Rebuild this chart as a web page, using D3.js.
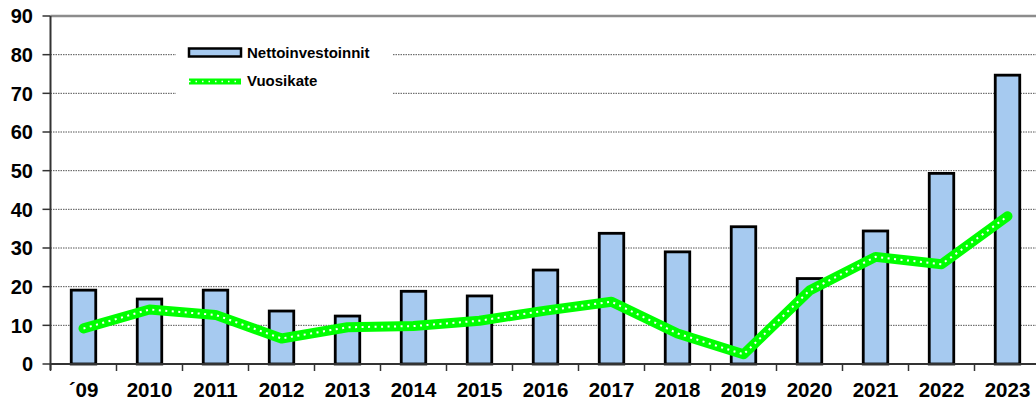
<!DOCTYPE html>
<html>
<head>
<meta charset="utf-8">
<script src="https://cdn.jsdelivr.net/npm/d3@7/dist/d3.min.js"></script>
<style>
  html, body { margin: 0; padding: 0; background: #fff; }
  svg { display: block; font-family: "Liberation Sans", Arial, sans-serif; }
</style>
</head>
<body>
<svg id="chart" width="1036" height="401"></svg>
<script>
// Years on the category axis
const years = ["\u00B409", "2010", "2011", "2012", "2013", "2014", "2015", "2016",
               "2017", "2018", "2019", "2020", "2021", "2022", "2023"];
// Net investments (bars)
const nettoinvestoinnit = [19.1, 16.8, 19.1, 13.7, 12.4, 18.8, 17.6, 24.3,
                           33.8, 29.0, 35.5, 22.1, 34.4, 49.3, 74.7];
// Annual contribution margin (line)
const vuosikate = [9.2, 14.1, 12.7, 6.6, 9.5, 9.8, 11.2, 13.8,
                   16.1, 7.9, 2.5, 19.0, 27.7, 25.8, 38.2];
// Value axis ticks
const yTicks = [0, 10, 20, 30, 40, 50, 60, 70, 80, 90];

const svg = d3.select("#chart");
const plotLeft = 50.5, plotRight = 1040.5, plotTop = 16, plotBottom = 364;

const step = (plotRight - plotLeft) / years.length;
const pad = 1 - 24.5 / step;
const x = d3.scaleBand().domain(years).range([plotLeft, plotRight])
  .paddingInner(pad).paddingOuter(pad / 2);
const y = d3.scaleLinear().domain([0, 90]).range([plotBottom, plotTop]);

// Gridlines
svg.append("g").selectAll("line")
  .data(yTicks.filter(t => t > 0 && t < 90))
  .join("line")
  .attr("x1", plotLeft).attr("x2", 1036)
  .attr("y1", d => y(d)).attr("y2", d => y(d))
  .attr("stroke", "#555").attr("stroke-width", 1)
  .attr("stroke-dasharray", "1.5,1");

// Top border of the plot area
svg.append("line")
  .attr("x1", plotLeft).attr("x2", 1036)
  .attr("y1", y(90)).attr("y2", y(90))
  .attr("stroke", "#8c8c8c").attr("stroke-width", 2.5);

// Legend box (white, hides gridlines behind it)
const legend = svg.append("g");
legend.append("rect")
  .attr("x", 176).attr("y", 40).attr("width", 216).attr("height", 60)
  .attr("fill", "#fff");

// Bars
svg.append("g").selectAll("rect")
  .data(years.map((yr, i) => ({ yr, v: nettoinvestoinnit[i] })))
  .join("rect")
  .attr("x", d => x(d.yr))
  .attr("width", x.bandwidth())
  .attr("y", d => y(d.v))
  .attr("height", d => y(0) - y(d.v))
  .attr("fill", "#a6caf0")
  .attr("stroke", "#000")
  .attr("stroke-width", 2.8);

// Vuosikate line: green band with white dots
const lineGen = d3.line()
  .x((d, i) => x(years[i]) + x.bandwidth() / 2)
  .y(d => y(d));
svg.append("path")
  .datum(vuosikate)
  .attr("d", lineGen)
  .attr("fill", "none")
  .attr("stroke", "#00ff00")
  .attr("stroke-width", 10)
  .attr("stroke-linejoin", "round")
  .attr("stroke-linecap", "round");
svg.append("path")
  .datum(vuosikate)
  .attr("d", lineGen)
  .attr("fill", "none")
  .attr("stroke", "#fff")
  .attr("stroke-width", 2)
  .attr("stroke-dasharray", "2,4.5");

// Y axis
const yAxis = svg.append("g");
yAxis.append("line")
  .attr("x1", plotLeft).attr("x2", plotLeft)
  .attr("y1", plotTop).attr("y2", plotBottom + 6)
  .attr("stroke", "#333").attr("stroke-width", 2);
yAxis.selectAll("line.tick")
  .data(yTicks)
  .join("line")
  .attr("class", "tick")
  .attr("x1", plotLeft - 8).attr("x2", plotLeft)
  .attr("y1", d => y(d)).attr("y2", d => y(d))
  .attr("stroke", "#333").attr("stroke-width", 1.5);
yAxis.selectAll("text")
  .data(yTicks)
  .join("text")
  .attr("x", 33)
  .attr("y", d => y(d))
  .attr("dy", "0.36em")
  .attr("text-anchor", "end")
  .attr("font-size", 20)
  .attr("font-weight", "bold")
  .attr("fill", "#000")
  .text(d => d);

// X axis
const xAxis = svg.append("g");
xAxis.append("line")
  .attr("x1", plotLeft).attr("x2", 1036)
  .attr("y1", plotBottom).attr("y2", plotBottom)
  .attr("stroke", "#333").attr("stroke-width", 2);
xAxis.selectAll("line.tick")
  .data(years)
  .join("line")
  .attr("class", "tick")
  .attr("x1", d => x(d) - (step - x.bandwidth()) / 2)
  .attr("x2", d => x(d) - (step - x.bandwidth()) / 2)
  .attr("y1", plotBottom).attr("y2", plotBottom + 7)
  .attr("stroke", "#333").attr("stroke-width", 1.5);
xAxis.selectAll("text")
  .data(years)
  .join("text")
  .attr("x", d => x(d) + x.bandwidth() / 2)
  .attr("y", 397)
  .attr("text-anchor", "middle")
  .attr("font-size", 20.5)
  .attr("font-weight", "bold")
  .attr("fill", "#000")
  .text(d => d);

// Legend entries
legend.append("rect")
  .attr("x", 189).attr("y", 48.5).attr("width", 52).attr("height", 8)
  .attr("fill", "#a6caf0").attr("stroke", "#000").attr("stroke-width", 2.5);
legend.append("text")
  .attr("x", 247).attr("y", 57.5)
  .attr("font-size", 15).attr("font-weight", "bold")
  .text("Nettoinvestoinnit");
legend.append("line")
  .attr("x1", 189).attr("x2", 241).attr("y1", 81.5).attr("y2", 81.5)
  .attr("stroke", "#00ff00").attr("stroke-width", 6);
legend.append("line")
  .attr("x1", 189).attr("x2", 241).attr("y1", 81.5).attr("y2", 81.5)
  .attr("stroke", "#fff").attr("stroke-width", 1.5)
  .attr("stroke-dasharray", "1.5,5");
legend.append("text")
  .attr("x", 247).attr("y", 86)
  .attr("font-size", 15).attr("font-weight", "bold")
  .text("Vuosikate");
</script>
</body>
</html>
